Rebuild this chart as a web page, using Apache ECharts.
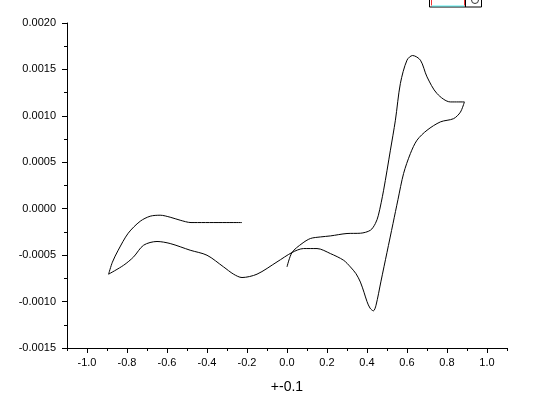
<!DOCTYPE html>
<html>
<head>
<meta charset="utf-8">
<script src="https://cdn.jsdelivr.net/npm/echarts@6/dist/echarts.min.js"></script>
<style>
  html, body { margin: 0; padding: 0; background: #fff; }
  #chart { width: 537px; height: 405px; }
</style>
</head>
<body>
<div id="chart"></div>
<script>
// potential (x) and current (y), in drawing order
const potential = [
  -0.225, -0.48, -0.534, -0.584, -0.634, -0.684, -0.734, -0.794, -0.844, -0.873, -0.892,
  -0.817, -0.767, -0.717, -0.65, -0.584, -0.484, -0.40, -0.317, -0.267, -0.225, -0.15, -0.05,
  0.025, 0.083, 0.15, 0.217, 0.283, 0.317, 0.345, 0.367, 0.385, 0.40, 0.415, 0.432,
  0.445, 0.47, 0.50, 0.53, 0.555, 0.583, 0.617, 0.65, 0.70, 0.767, 0.833, 0.867, 0.887,
  0.817, 0.75, 0.70, 0.667, 0.628, 0.60, 0.567, 0.542, 0.517, 0.483, 0.457, 0.442, 0.417,
  0.367, 0.30, 0.217, 0.167, 0.117, 0.075, 0.025, 0.0
];
const current = [
  -0.000149, -0.000149, -0.000124, -0.0000915, -0.00007, -0.0000808, -0.000135, -0.000264, -0.000447, -0.000576, -0.000705,
  -0.000609, -0.000519, -0.000393, -0.000353, -0.000375, -0.000447, -0.000501, -0.000627, -0.000705, -0.000741, -0.000705, -0.000573,
  -0.000472, -0.000429, -0.000429, -0.000483, -0.000555, -0.000627, -0.0007, -0.00079, -0.0009, -0.001, -0.00107, -0.0011,
  -0.00104, -0.00078, -0.00047, -0.00016, 0.0001, 0.00038, 0.000594, 0.000738, 0.000845, 0.000935, 0.00097, 0.00104, 0.00115,
  0.00115, 0.00124, 0.00142, 0.0016, 0.00165, 0.0016, 0.00135, 0.000953, 0.00063, 0.000199, -0.00007, -0.000159, -0.000232,
  -0.000264, -0.000267, -0.000293, -0.000304, -0.000321, -0.000375, -0.000472, -0.000627
];
const majorTicks = [-1.0, -0.8, -0.6, -0.4, -0.2, 0.0, 0.2, 0.4, 0.6, 0.8, 1.0];
const xName = '+-0.1';

const font = 'Liberation Sans, Arial, sans-serif';
const chart = echarts.init(document.getElementById('chart'));
const points = potential.map((x, i) => [x, current[i]]);

const option = {
  backgroundColor: '#fff',
  animation: false,
  grid: { left: 67, right: 30, top: 23, bottom: 57 },
  xAxis: [{
    type: 'value',
    min: -1.1,
    max: 1.1,
    interval: 0.1,
    position: 'bottom',
    name: xName,
    nameLocation: 'middle',
    nameGap: 32,
    nameTextStyle: { fontFamily: font, fontSize: 14, color: '#000' },
    axisLine: { onZero: false, lineStyle: { color: '#000', width: 1 } },
    axisTick: { inside: false, length: 3, lineStyle: { color: '#000' } },
    axisLabel: {
      customValues: majorTicks,
      margin: 9,
      fontFamily: font,
      fontSize: 11,
      color: '#000',
      formatter: v => v.toFixed(1)
    },
    splitLine: { show: false }
  }, {
    type: 'value',
    min: -1.1,
    max: 1.1,
    position: 'bottom',
    axisLine: { show: false, onZero: false },
    axisTick: { customValues: majorTicks, length: 5, lineStyle: { color: '#000' } },
    axisLabel: { show: false },
    splitLine: { show: false }
  }],
  yAxis: {
    type: 'value',
    min: -0.0015,
    max: 0.002,
    interval: 0.0005,
    axisLine: { show: true, onZero: false, lineStyle: { color: '#000', width: 1 } },
    axisTick: { show: true, length: 5, lineStyle: { color: '#000' } },
    minorTick: { show: true, splitNumber: 2, length: 3, lineStyle: { color: '#000' } },
    axisLabel: {
      margin: 11,
      fontFamily: font,
      fontSize: 11,
      color: '#000',
      formatter: v => v.toFixed(4)
    },
    splitLine: { show: false }
  },
  series: [{
    type: 'line',
    data: points,
    smooth: 0.3,
    showSymbol: false,
    lineStyle: { color: '#000', width: 1 }
  }],
  graphic: [
    // clipped legend box at top right
    { type: 'rect', shape: { x: 429.5, y: -6, width: 52, height: 13 }, style: { fill: '#fff', stroke: '#000', lineWidth: 1 } },
    { type: 'line', shape: { x1: 465.5, y1: -6, x2: 465.5, y2: 7 }, style: { stroke: '#000', lineWidth: 1 } },
    { type: 'line', shape: { x1: 431.5, y1: -6, x2: 431.5, y2: 5.5 }, style: { stroke: '#e00', lineWidth: 0.8 } },
    { type: 'line', shape: { x1: 464.5, y1: -6, x2: 464.5, y2: 5.5 }, style: { stroke: '#e00', lineWidth: 0.8 } },
    { type: 'line', shape: { x1: 432, y1: 6, x2: 464, y2: 6 }, style: { stroke: '#3ee', lineWidth: 0.8 } },
    { type: 'circle', shape: { cx: 475, cy: 0, r: 3.5 }, style: { fill: '#fff', stroke: '#333', lineWidth: 1 } }
  ]
};

chart.setOption(option);
</script>
</body>
</html>
